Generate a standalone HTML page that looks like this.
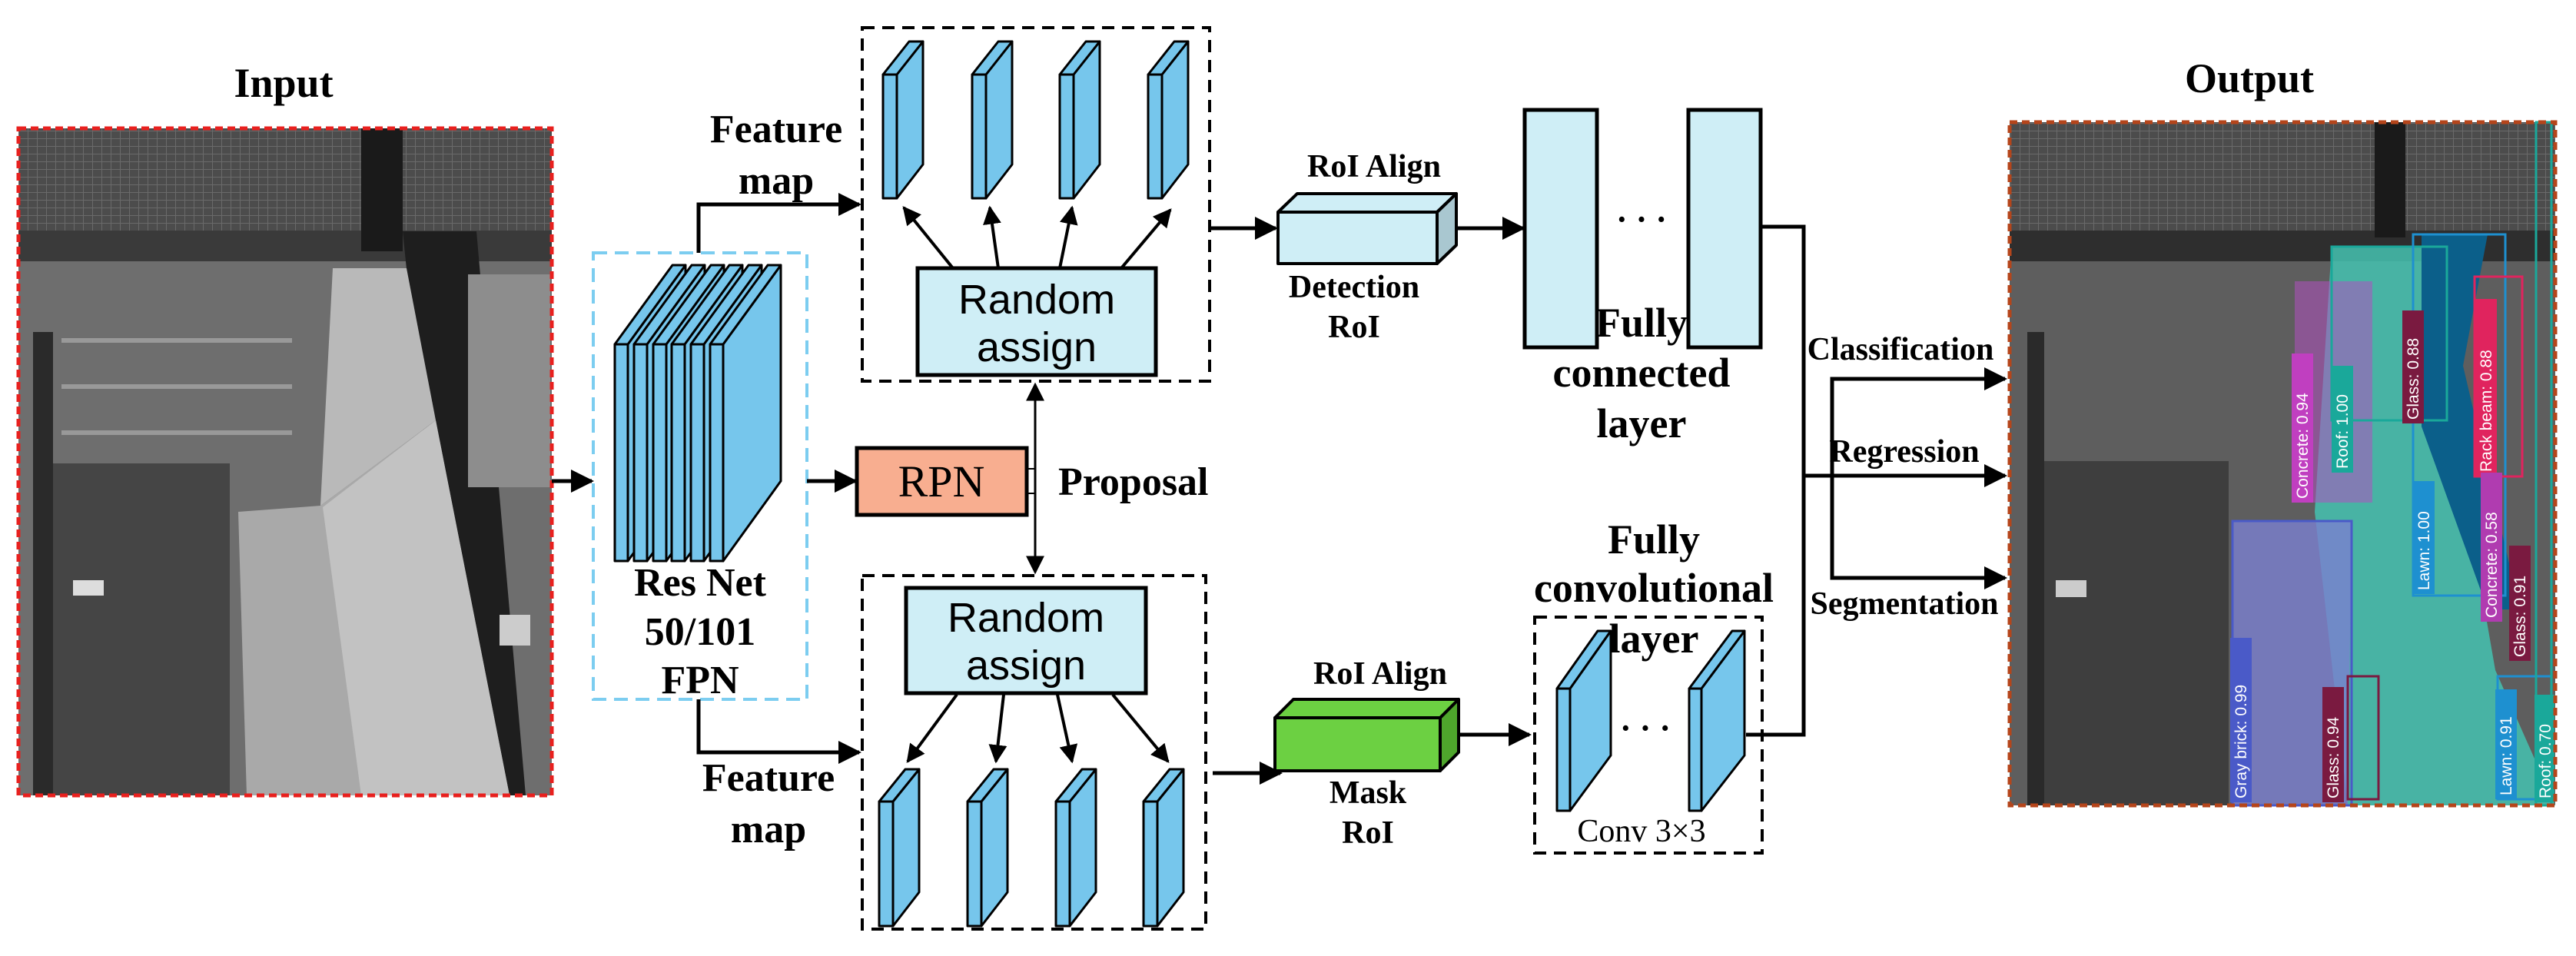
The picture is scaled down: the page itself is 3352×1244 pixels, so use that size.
<!DOCTYPE html>
<html><head><meta charset="utf-8"><style>
html,body{margin:0;padding:0;background:#fff}
svg{display:block}
.t{font-family:"Liberation Serif",serif;font-weight:bold;fill:#000}
.s{font-family:"Liberation Sans",sans-serif;fill:#000}
.lb{font-family:"Liberation Sans",sans-serif;fill:#fff;font-size:21px}
</style></head><body>
<svg width="3352" height="1244" viewBox="0 0 3352 1244" xmlns="http://www.w3.org/2000/svg">
<defs>
<marker id="a" markerWidth="10" markerHeight="10" refX="8" refY="5" orient="auto" markerUnits="userSpaceOnUse" viewBox="0 0 10 10">
</marker>
<marker id="ar" viewBox="0 0 10 10" refX="9" refY="5" markerWidth="30" markerHeight="30" markerUnits="userSpaceOnUse" orient="auto"><path d="M0,0 L10,5 L0,10 z" fill="#000"/></marker>
<marker id="ar2" viewBox="0 0 10 10" refX="9" refY="5" markerWidth="24" markerHeight="24" markerUnits="userSpaceOnUse" orient="auto-start-reverse"><path d="M0,0 L10,5 L0,10 z" fill="#000"/></marker>
<pattern id="grid" width="12" height="10" patternUnits="userSpaceOnUse"><rect width="12" height="10" fill="#4c4c4c"/><path d="M0,0H12M0,0V10" stroke="#6a6a6a" stroke-width="2"/></pattern>
</defs>

<!-- INPUT -->
<text class="t" x="369" y="126" font-size="54" text-anchor="middle">Input</text>
<g>
<rect x="24" y="167" width="694" height="868" fill="#6e6e6e"/>
<rect x="24" y="167" width="694" height="168" fill="url(#grid)"/>
<rect x="24" y="300" width="694" height="40" fill="#3a3a3a"/>
<rect x="470" y="167" width="54" height="160" fill="#1a1a1a"/>
<polygon points="524,301 620,301 684,1035 599,1035" fill="#1e1e1e"/>
<rect x="609" y="357" width="107" height="277" fill="#8d8d8d"/>
<polygon points="433,349 529,349 567,547 417,658" fill="#b9b9b9"/>
<polygon points="310,666 417,658 567,547 663,1035 321,1035" fill="#a9a9a9"/>
<polygon points="420,660 567,547 663,1035 470,1035" fill="#c2c2c2"/>
<rect x="43" y="603" width="256" height="432" fill="#3e3e3e" opacity="0.85"/>
<rect x="43" y="432" width="26" height="603" fill="#2a2a2a"/>
<rect x="80" y="440" width="300" height="6" fill="#999"/>
<rect x="80" y="500" width="300" height="6" fill="#999"/>
<rect x="80" y="560" width="300" height="6" fill="#999"/>
<rect x="95" y="755" width="40" height="20" fill="#ddd"/>
<rect x="650" y="800" width="40" height="40" fill="#ccc"/>
<rect x="24" y="167" width="694" height="868" fill="none" stroke="#e8201e" stroke-width="5" stroke-dasharray="10 6"/>
</g>
<line x1="718" y1="626" x2="770" y2="626" stroke="#000" stroke-width="5" marker-end="url(#ar)"/>

<!-- RESNET -->
<rect x="772" y="329" width="278" height="581" fill="none" stroke="#7ccdf0" stroke-width="4" stroke-dasharray="18 10"/>
<g stroke="#000" stroke-width="3" fill="#76c6ec" stroke-linejoin="round">
<g transform="translate(800,0)"><polygon points="17,448 92,345 92,626 17,730"/><polygon points="0,448 75,345 92,345 17,448"/><rect x="0" y="448" width="17" height="282"/></g>
<g transform="translate(825,0)"><polygon points="17,448 92,345 92,626 17,730"/><polygon points="0,448 75,345 92,345 17,448"/><rect x="0" y="448" width="17" height="282"/></g>
<g transform="translate(850,0)"><polygon points="17,448 92,345 92,626 17,730"/><polygon points="0,448 75,345 92,345 17,448"/><rect x="0" y="448" width="17" height="282"/></g>
<g transform="translate(874,0)"><polygon points="17,448 92,345 92,626 17,730"/><polygon points="0,448 75,345 92,345 17,448"/><rect x="0" y="448" width="17" height="282"/></g>
<g transform="translate(899,0)"><polygon points="17,448 92,345 92,626 17,730"/><polygon points="0,448 75,345 92,345 17,448"/><rect x="0" y="448" width="17" height="282"/></g>
<g transform="translate(924,0)"><polygon points="17,448 92,345 92,626 17,730"/><polygon points="0,448 75,345 92,345 17,448"/><rect x="0" y="448" width="17" height="282"/></g>
</g>
<text class="t" x="911" y="775" font-size="52" text-anchor="middle">Res Net</text>
<text class="t" x="911" y="839" font-size="52" text-anchor="middle">50/101</text>
<text class="t" x="911" y="902" font-size="52" text-anchor="middle">FPN</text>

<!-- feature map lines -->
<polyline points="909,329 909,266 1118,266" fill="none" stroke="#000" stroke-width="5" marker-end="url(#ar)"/>
<text class="t" x="1010" y="185" font-size="52" text-anchor="middle">Feature</text>
<text class="t" x="1010" y="252" font-size="52" text-anchor="middle">map</text>
<polyline points="909,910 909,979 1118,979" fill="none" stroke="#000" stroke-width="5" marker-end="url(#ar)"/>
<text class="t" x="1000" y="1029" font-size="52" text-anchor="middle">Feature</text>
<text class="t" x="1000" y="1096" font-size="52" text-anchor="middle">map</text>

<!-- top dashed box -->
<rect x="1122" y="36" width="452" height="460" fill="none" stroke="#000" stroke-width="4" stroke-dasharray="16 10"/>
<g stroke="#000" stroke-width="3" fill="#76c6ec" stroke-linejoin="round">
<g transform="translate(1149,0)"><polygon points="18,97 52,54 52,214 18,258"/><polygon points="0,97 34,54 52,54 18,97"/><rect x="0" y="97" width="18" height="161"/></g>
<g transform="translate(1265,0)"><polygon points="18,97 52,54 52,214 18,258"/><polygon points="0,97 34,54 52,54 18,97"/><rect x="0" y="97" width="18" height="161"/></g>
<g transform="translate(1379,0)"><polygon points="18,97 52,54 52,214 18,258"/><polygon points="0,97 34,54 52,54 18,97"/><rect x="0" y="97" width="18" height="161"/></g>
<g transform="translate(1494,0)"><polygon points="18,97 52,54 52,214 18,258"/><polygon points="0,97 34,54 52,54 18,97"/><rect x="0" y="97" width="18" height="161"/></g>
</g>
<rect x="1194" y="349" width="310" height="139" fill="#cfeef6" stroke="#000" stroke-width="5"/>
<text class="s" x="1349" y="408" font-size="54" text-anchor="middle">Random</text>
<text class="s" x="1349" y="470" font-size="54" text-anchor="middle">assign</text>
<g stroke="#000" stroke-width="4" marker-end="url(#ar2)">
<line x1="1240" y1="349" x2="1176" y2="270"/>
<line x1="1299" y1="349" x2="1288" y2="270"/>
<line x1="1379" y1="349" x2="1395" y2="270"/>
<line x1="1459" y1="349" x2="1523" y2="273"/>
</g>

<!-- RPN -->
<line x1="1050" y1="626" x2="1113" y2="626" stroke="#000" stroke-width="5" marker-end="url(#ar)"/>
<rect x="1115" y="583" width="221" height="87" fill="#f8ae90" stroke="#000" stroke-width="5"/>
<text x="1225" y="646" font-size="58" text-anchor="middle" font-family="Liberation Serif,serif">RPN</text>
<polyline points="1336,610 1347,610 1347,642 1336,642" fill="none" stroke="#000" stroke-width="2"/>
<line x1="1347" y1="626" x2="1347" y2="500" stroke="#000" stroke-width="3" marker-end="url(#ar2)"/>
<line x1="1347" y1="626" x2="1347" y2="745" stroke="#000" stroke-width="3" marker-end="url(#ar2)"/>
<text class="t" x="1377" y="644" font-size="52">Proposal</text>

<!-- bottom dashed box -->
<rect x="1122" y="749" width="447" height="460" fill="none" stroke="#000" stroke-width="4" stroke-dasharray="16 10"/>
<rect x="1179" y="765" width="312" height="137" fill="#cfeef6" stroke="#000" stroke-width="5"/>
<text class="s" x="1335" y="822" font-size="54" text-anchor="middle">Random</text>
<text class="s" x="1335" y="884" font-size="54" text-anchor="middle">assign</text>
<g stroke="#000" stroke-width="4" marker-end="url(#ar2)">
<line x1="1245" y1="904" x2="1181" y2="991"/>
<line x1="1306" y1="904" x2="1296" y2="991"/>
<line x1="1376" y1="904" x2="1395" y2="991"/>
<line x1="1448" y1="904" x2="1520" y2="991"/>
</g>
<g stroke="#000" stroke-width="3" fill="#76c6ec" stroke-linejoin="round">
<g transform="translate(1144,0)"><polygon points="18,1043 52,1001 52,1161 18,1205"/><polygon points="0,1043 34,1001 52,1001 18,1043"/><rect x="0" y="1043" width="18" height="162"/></g>
<g transform="translate(1259,0)"><polygon points="18,1043 52,1001 52,1161 18,1205"/><polygon points="0,1043 34,1001 52,1001 18,1043"/><rect x="0" y="1043" width="18" height="162"/></g>
<g transform="translate(1374,0)"><polygon points="18,1043 52,1001 52,1161 18,1205"/><polygon points="0,1043 34,1001 52,1001 18,1043"/><rect x="0" y="1043" width="18" height="162"/></g>
<g transform="translate(1488,0)"><polygon points="18,1043 52,1001 52,1161 18,1205"/><polygon points="0,1043 34,1001 52,1001 18,1043"/><rect x="0" y="1043" width="18" height="162"/></g>
</g>

<!-- RoI align top -->
<line x1="1576" y1="297" x2="1660" y2="297" stroke="#000" stroke-width="5" marker-end="url(#ar)"/>
<text class="t" x="1788" y="230" font-size="42" text-anchor="middle">RoI Align</text>
<g stroke="#000" stroke-width="4" stroke-linejoin="round">
<polygon points="1663,276 1688,252 1895,252 1870,276" fill="#cfeef6"/>
<polygon points="1870,276 1895,252 1895,319 1870,343" fill="#a9c7d0"/>
<rect x="1663" y="276" width="207" height="67" fill="#cfeef6"/>
</g>
<text class="t" x="1762" y="387" font-size="42" text-anchor="middle">Detection</text>
<text class="t" x="1762" y="439" font-size="42" text-anchor="middle">RoI</text>
<line x1="1895" y1="297" x2="1982" y2="297" stroke="#000" stroke-width="5" marker-end="url(#ar)"/>

<!-- FC -->
<rect x="1984" y="143" width="94" height="309" fill="#cfeef6" stroke="#000" stroke-width="5"/>
<rect x="2197" y="143" width="94" height="309" fill="#cfeef6" stroke="#000" stroke-width="5"/>
<text class="t" x="2136" y="300" font-size="44" text-anchor="middle">· · ·</text>
<text class="t" x="2136" y="438" font-size="54" text-anchor="middle">Fully</text>
<text class="t" x="2136" y="503" font-size="54" text-anchor="middle">connected</text>
<text class="t" x="2136" y="569" font-size="54" text-anchor="middle">layer</text>

<!-- Mask RoI -->
<line x1="1578" y1="1006" x2="1666" y2="1006" stroke="#000" stroke-width="5" marker-end="url(#ar)"/>
<text class="t" x="1796" y="890" font-size="42" text-anchor="middle">RoI Align</text>
<g stroke="#000" stroke-width="4" stroke-linejoin="round">
<polygon points="1659,934 1683,910 1898,910 1874,934" fill="#6cd042"/>
<polygon points="1874,934 1898,910 1898,979 1874,1003" fill="#4ea62c"/>
<rect x="1659" y="934" width="215" height="69" fill="#6cd042"/>
</g>
<text class="t" x="1780" y="1045" font-size="42" text-anchor="middle">Mask</text>
<text class="t" x="1780" y="1097" font-size="42" text-anchor="middle">RoI</text>
<line x1="1898" y1="956" x2="1990" y2="956" stroke="#000" stroke-width="5" marker-end="url(#ar)"/>

<!-- conv -->
<rect x="1997" y="803" width="296" height="307" fill="none" stroke="#000" stroke-width="4" stroke-dasharray="16 10"/>
<g stroke="#000" stroke-width="3" fill="#76c6ec" stroke-linejoin="round">
<polygon points="2043,896 2096,821 2096,983 2043,1055"/><polygon points="2026,896 2079,821 2096,821 2043,896"/><rect x="2026" y="896" width="17" height="159"/>
<polygon points="2214,896 2270,821 2270,983 2214,1055"/><polygon points="2198,896 2254,821 2270,821 2214,896"/><rect x="2198" y="896" width="16" height="159"/>
</g>
<text class="t" x="2141" y="962" font-size="44" text-anchor="middle">· · ·</text>
<text class="t" x="2152" y="720" font-size="54" text-anchor="middle">Fully</text>
<text class="t" x="2152" y="783" font-size="54" text-anchor="middle">convolutional</text>
<text class="t" x="2152" y="849" font-size="54" text-anchor="middle">layer</text>
<text x="2136" y="1095" font-size="42" text-anchor="middle" font-family="Liberation Serif,serif">Conv 3×3</text>

<!-- merge lines -->
<polyline points="2291,295 2347,295 2347,956 2272,956" fill="none" stroke="#000" stroke-width="5"/>
<line x1="2347" y1="619" x2="2609" y2="619" stroke="#000" stroke-width="5" marker-end="url(#ar)"/>
<polyline points="2609,493 2384,493 2384,752 2609,752" fill="none" stroke="#000" stroke-width="5"/>
<line x1="2540" y1="493" x2="2609" y2="493" stroke="#000" stroke-width="5" marker-end="url(#ar)"/>
<line x1="2540" y1="752" x2="2609" y2="752" stroke="#000" stroke-width="5" marker-end="url(#ar)"/>
<text class="t" x="2473" y="468" font-size="42" text-anchor="middle">Classification</text>
<text class="t" x="2478" y="601" font-size="42" text-anchor="middle">Regression</text>
<text class="t" x="2478" y="799" font-size="42" text-anchor="middle">Segmentation</text>

<!-- OUTPUT -->
<text class="t" x="2927" y="120" font-size="54" text-anchor="middle">Output</text>
<g>
<rect x="2615" y="159" width="710" height="889" fill="#5e5e5e"/>
<rect x="2615" y="159" width="710" height="160" fill="url(#grid)"/>
<rect x="2615" y="300" width="710" height="40" fill="#2e2e2e"/>
<rect x="3090" y="159" width="40" height="150" fill="#1a1a1a"/>
<rect x="2638" y="432" width="22" height="616" fill="#2a2a2a"/>
<rect x="2660" y="600" width="240" height="448" fill="#363636" opacity="0.8"/>
<rect x="2675" y="755" width="40" height="22" fill="#ccc"/>
<polygon points="3034,321 3151,321 3247,872 3325,1048 3055,1048 3012,666" fill="#44c2b0" opacity="0.85"/>
<polygon points="3151,305 3237,305 3205,476 3279,793 3237,793 3151,555" fill="#0b5f8a"/>
<polygon points="2905,678 3060,678 3055,1048 2905,1048" fill="#7b80d0" opacity="0.8"/>
<rect x="2986" y="366" width="101" height="288" fill="#b050c0" opacity="0.55"/>
<g fill="none" stroke-width="3">
<rect x="3034" y="321" width="150" height="226" stroke="#1aa89a"/>
<rect x="3140" y="305" width="120" height="470" stroke="#1e90d0"/>
<rect x="3220" y="360" width="62" height="260" stroke="#e0245e"/>
<rect x="2905" y="678" width="155" height="370" stroke="#4a5ac8"/>
<rect x="3055" y="880" width="40" height="160" stroke="#7a1a40"/>
<rect x="3250" y="880" width="70" height="160" stroke="#1e90d0"/>
<rect x="3300" y="159" width="20" height="889" stroke="#1aa89a"/>
</g>
<g transform="translate(2996,654) rotate(-90)"><rect x="0" y="-14" width="194" height="28" fill="#c03fc0"/><text class="lb" x="5" y="7">Concrete: 0.94</text></g>
<g transform="translate(3048,615) rotate(-90)"><rect x="0" y="-14" width="139" height="28" fill="#1aa89a"/><text class="lb" x="5" y="7">Roof: 1.00</text></g>
<g transform="translate(3140,551) rotate(-90)"><rect x="0" y="-14" width="147" height="28" fill="#7a1a40"/><text class="lb" x="5" y="7">Glass: 0.88</text></g>
<g transform="translate(3235,619) rotate(-90)"><rect x="0" y="-14" width="230" height="28" fill="#e0245e"/><text class="lb" x="5" y="7">Rack beam: 0.88</text></g>
<g transform="translate(3154,773) rotate(-90)"><rect x="0" y="-14" width="147" height="28" fill="#1e90d0"/><text class="lb" x="5" y="7">Lawn: 1.00</text></g>
<g transform="translate(3242,809) rotate(-90)"><rect x="0" y="-14" width="194" height="28" fill="#b03cb0"/><text class="lb" x="5" y="7">Concrete: 0.58</text></g>
<g transform="translate(3279,860) rotate(-90)"><rect x="0" y="-14" width="150" height="28" fill="#7a1a40"/><text class="lb" x="5" y="7">Glass: 0.91</text></g>
<g transform="translate(2916,1044) rotate(-90)"><rect x="0" y="-14" width="214" height="28" fill="#4a5ac8"/><text class="lb" x="5" y="7">Gray brick: 0.99</text></g>
<g transform="translate(3036,1044) rotate(-90)"><rect x="0" y="-14" width="150" height="28" fill="#7a1a40"/><text class="lb" x="5" y="7">Glass: 0.94</text></g>
<g transform="translate(3261,1040) rotate(-90)"><rect x="0" y="-14" width="143" height="28" fill="#1e90d0"/><text class="lb" x="5" y="7">Lawn: 0.91</text></g>
<g transform="translate(3312,1044) rotate(-90)"><rect x="0" y="-14" width="140" height="26" fill="#1aa89a"/><text class="lb" x="5" y="7">Roof: 0.70</text></g>
<rect x="2615" y="159" width="710" height="889" fill="none" stroke="#b5451b" stroke-width="5" stroke-dasharray="10 6"/>
</g>
</svg>
</body></html>
